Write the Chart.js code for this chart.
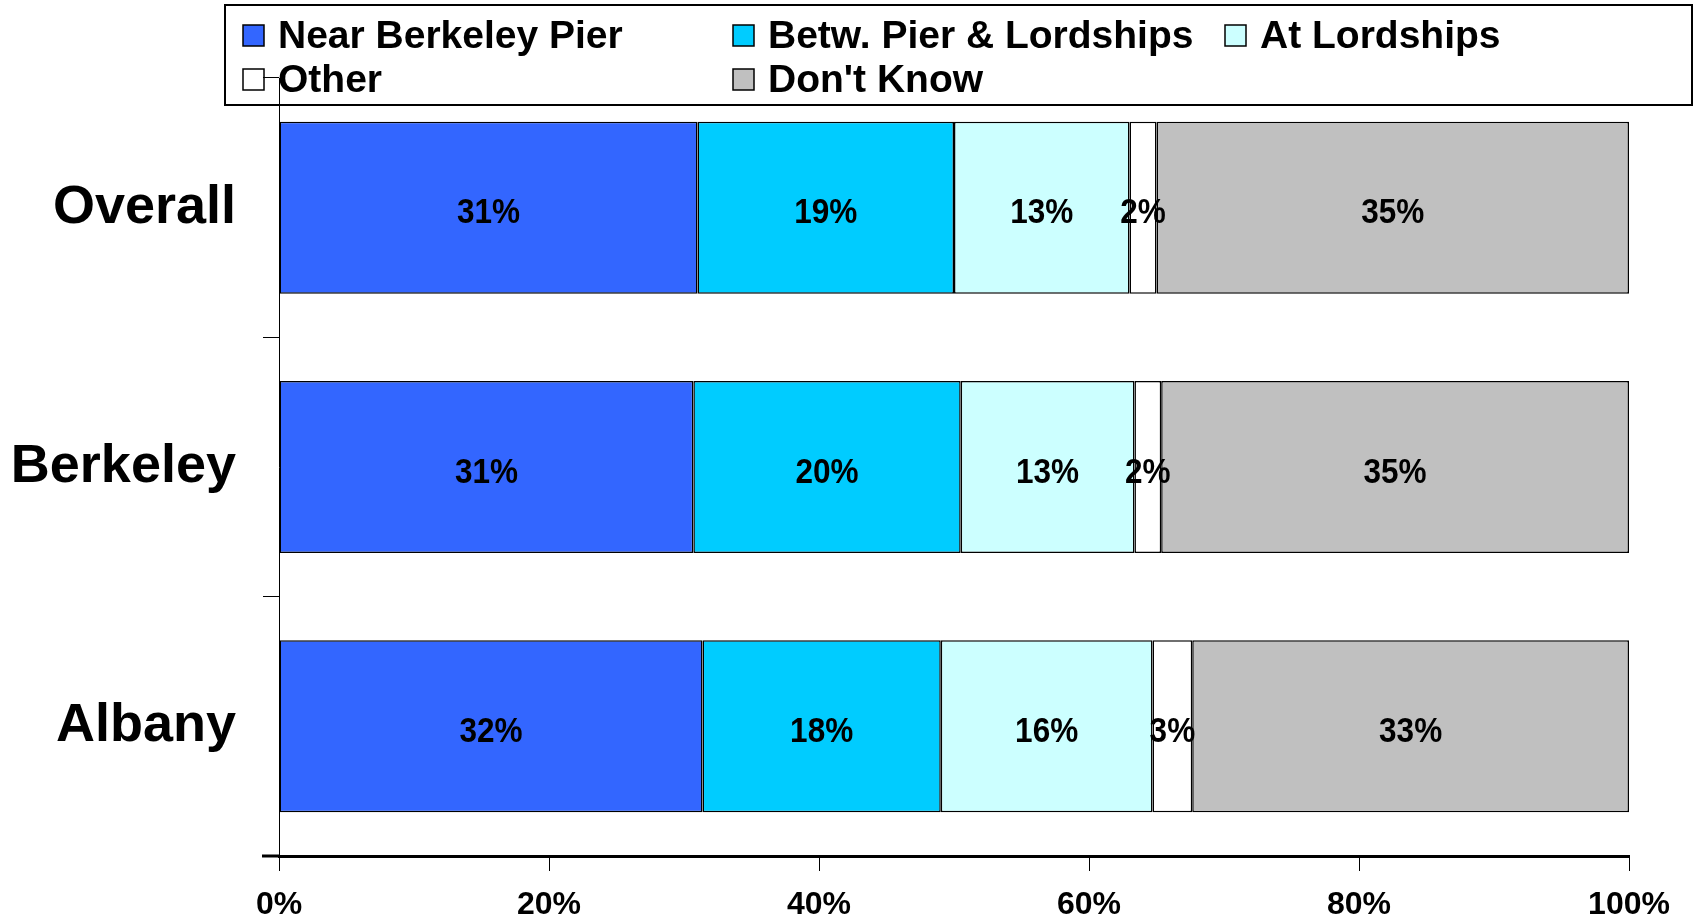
<!DOCTYPE html>
<html>
<head>
<meta charset="utf-8">
<script src="https://cdn.jsdelivr.net/npm/chart.js@4/dist/chart.umd.min.js"></script>
<style>
  html, body { margin: 0; padding: 0; background: #fff; }
  #wrap { width: 1694px; height: 922px; position: relative; }
</style>
</head>
<body>
<div id="wrap"><canvas id="pier-chart"></canvas></div>
<script>
// categories and survey answers (percent as labelled, Excel 100% stacked)
const categories = ['Overall', 'Berkeley', 'Albany'];
const seriesNames = ['Near Berkeley Pier', 'Betw. Pier & Lordships', 'At Lordships', 'Other', "Don't Know"];
const nearPier = [31, 31, 32];
const betwPierLords = [19, 20, 18];
const atLordships = [13, 13, 16];
const other = [2, 2, 3];
const dontKnow = [35, 35, 33];
const xTicks = [0, 20, 40, 60, 80, 100];

const seriesValues = [nearPier, betwPierLords, atLordships, other, dontKnow];
const colors = ['#3366FF', '#00CCFF', '#CCFFFF', '#FFFFFF', '#C0C0C0'];

// totals per category, to normalise to 100%
const totals = categories.map((c, i) => seriesValues.reduce((s, arr) => s + arr[i], 0));

Chart.defaults.font.family = "'Liberation Sans', Arial, sans-serif";
Chart.defaults.color = '#000';

const datasets = seriesNames.map((name, k) => ({
    label: name,
    raw: seriesValues[k],
    data: seriesValues[k].map((v, i) => v / totals[i] * 100),
    backgroundColor: colors[k],
    borderColor: '#000',
    borderWidth: 1.5,
    borderSkipped: false,
    barPercentage: 0.663,
    categoryPercentage: 1.0
}));

// legend box drawn by hand, two rows with aligned columns
const legendBox = {
    id: 'legendBox',
    beforeDraw(chart) {
        const ctx = chart.ctx;
        ctx.save();
        ctx.fillStyle = '#fff';
        ctx.fillRect(0, 0, chart.width, chart.height);
        ctx.fillRect(225, 5, 1467, 100);
        ctx.strokeStyle = '#000';
        ctx.lineWidth = 2;
        ctx.strokeRect(225, 5, 1467, 100);

        const cols = [243, 733, 1225];
        const rows = [35, 79];
        ctx.font = "bold 39px 'Liberation Sans', Arial, sans-serif";
        ctx.textBaseline = 'middle';
        ctx.textAlign = 'left';
        chart.data.datasets.forEach((ds, k) => {
            const x = cols[k % 3];
            const y = rows[Math.floor(k / 3)];
            ctx.fillStyle = ds.backgroundColor;
            ctx.fillRect(x, y - 10, 21, 21);
            ctx.lineWidth = 1.5;
            ctx.strokeStyle = '#000';
            ctx.strokeRect(x, y - 10, 21, 21);
            ctx.fillStyle = '#000';
            ctx.fillText(ds.label, x + 35, y + 2);
        });
        ctx.restore();
    }
};

// percent labels in the middle of each segment
const barLabels = {
    id: 'barLabels',
    afterDatasetsDraw(chart) {
        const ctx = chart.ctx;
        ctx.save();
        ctx.font = "bold 35px 'Liberation Sans', Arial, sans-serif";
        ctx.fillStyle = '#000';
        ctx.textAlign = 'center';
        ctx.textBaseline = 'middle';
        chart.data.datasets.forEach((ds, k) => {
            chart.getDatasetMeta(k).data.forEach((el, i) => {
                const p = el.getCenterPoint();
                ctx.save();
                ctx.translate(p.x, p.y + 6);
                ctx.scale(0.9, 1);
                ctx.fillText(ds.raw[i] + '%', 0, 0);
                ctx.restore();
            });
        });
        // x axis line runs a bit past the y axis
        const a = chart.chartArea;
        ctx.fillRect(a.left - 17, a.bottom - 1.5, 17, 3);
        ctx.restore();
    }
};

const config = {
    type: 'bar',
    data: { labels: categories, datasets: datasets },
    plugins: [legendBox, barLabels],
    options: {
        indexAxis: 'y',
        responsive: true,
        maintainAspectRatio: false,
        animation: false,
        layout: { padding: { top: 78, right: 65, left: 0, bottom: 0 } },
        scales: {
            x: {
                stacked: true,
                min: 0,
                max: 100,
                afterBuildTicks: s => { s.ticks = xTicks.map(v => ({ value: v })); },
                afterFit: s => { s.height = 66; },
                ticks: {
                    callback: v => v + '%',
                    font: { size: 32, weight: 'bold' },
                    padding: 15,
                    maxRotation: 0
                },
                grid: {
                    drawOnChartArea: false,
                    drawTicks: true,
                    tickLength: 15,
                    color: '#000',
                    lineWidth: 1
                },
                border: { display: true, color: '#000', width: 3 }
            },
            y: {
                stacked: true,
                afterFit: s => { s.width = 279; },
                ticks: {
                    font: { size: 54, weight: 'bold' },
                    padding: 27
                },
                grid: {
                    offset: true,
                    drawOnChartArea: false,
                    drawTicks: true,
                    tickLength: 16,
                    color: '#000',
                    lineWidth: 1
                },
                border: { display: true, color: '#000', width: 1 }
            }
        },
        plugins: {
            legend: { display: false },
            tooltip: { enabled: false }
        }
    }
};

new Chart(document.getElementById('pier-chart').getContext('2d'), config);
</script>
</body>
</html>
